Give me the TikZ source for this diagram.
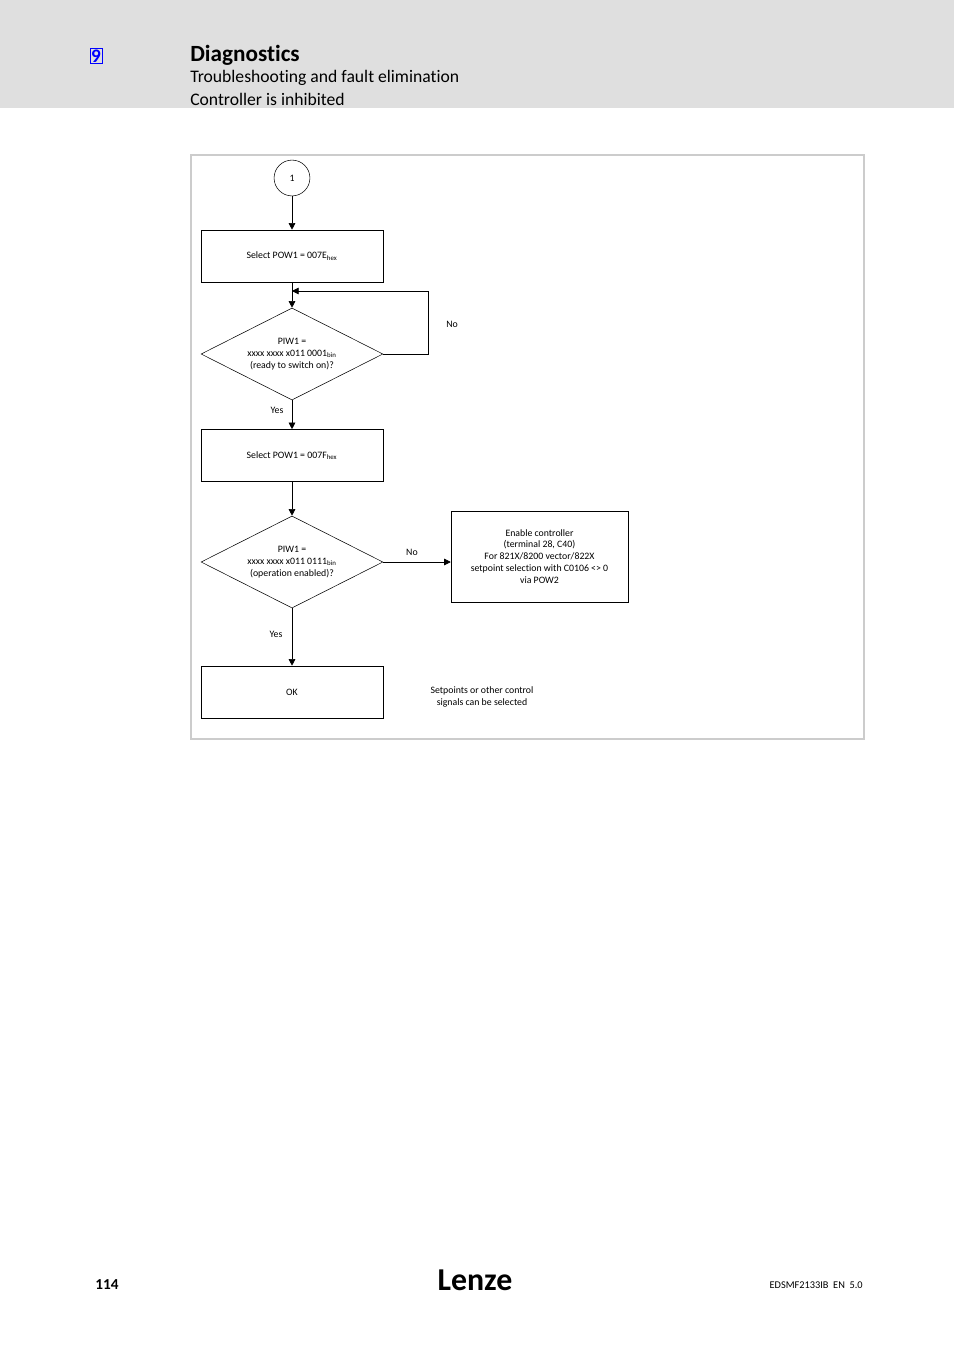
\documentclass[tikz,border=0pt]{standalone}
\usepackage{fontspec}
\setmainfont{Carlito}[Ligatures={NoCommon}]
\usetikzlibrary{shapes.geometric,positioning,arrows.meta}
\tikzset{
  txt/.style={font=\fontsize{7.4}{9}\selectfont, align=center, inner sep=0pt},
  stepbox/.style={draw, txt, minimum width=4.82cm, minimum height=1.38cm},
  decide/.style={draw, diamond, txt, aspect=1.98, minimum width=4.82cm, minimum height=2.44cm},
  flow/.style={-{Triangle[length=5pt,width=5pt]}, line width=0.5pt}
}
\begin{document}
\begin{tikzpicture}[x=0.0265cm, y=-0.0265cm]
  \useasboundingbox (0,0) rectangle (954,1350);
  % header
  \fill[gray!25] (0,0) rectangle (954,108);
  \node[draw=blue, text=blue, inner sep=1pt, font=\bfseries\Large] (chap) at (96,56) {9};
  \node[anchor=west, inner sep=0pt, font=\bfseries\fontsize{17.5}{19}\selectfont] (title) at (190,55) {Diagnostics};
  \node[anchor=west, inner sep=0pt, font=\fontsize{13.3}{15}\selectfont] (sub1) at (190,78) {Troubleshooting and fault elimination};
  \node[anchor=west, inner sep=0pt, font=\fontsize{13.3}{15}\selectfont] (sub2) at (190,99) {Controller is inhibited};
  % frame
  \draw[gray!40, line width=1pt] (191,155) rectangle (864,739);

  \node[draw, circle, txt, minimum size=0.95cm] (start) at (292,178) {1};
  \node[stepbox] (sel1) at (292,256) {Select POW1 = 007E\textsubscript{hex}};
  \node[decide] (ready) at (292,354) {PIW1 =\\xxxx xxxx x011 0001\textsubscript{bin}\\(ready to switch on)?};
  \node[stepbox] (sel2) at (292,455.5) {Select POW1 = 007F\textsubscript{hex}};
  \node[decide] (oper) at (292,562) {PIW1 =\\xxxx xxxx x011 0111\textsubscript{bin}\\(operation enabled)?};
  \node[draw, txt, minimum width=4.69cm, minimum height=2.41cm] (enable) at (539.5,556.5)
    {Enable controller\\(terminal 28, C40)\\For 821X/8200 vector/822X\\setpoint selection with C0106 <> 0\\via POW2};
  \node[stepbox] (ok) at (292,692) {OK};
  \node[txt] (note) at (482,697) {Setpoints or other control\\signals can be selected};

  \coordinate (merge) at (292,291);
  \draw[flow] (start) -- (sel1);
  \draw[flow] (sel1) -- (ready);
  \draw[flow] (ready.east) -- (428,354) -- (428,291) -- (merge);
  \draw[flow] (ready) -- (sel2);
  \draw[flow] (sel2) -- (oper);
  \draw[flow] (oper.east) -- (oper.east -| enable.west);
  \draw[flow] (oper) -- (ok);

  \node[txt] (no1) at (452,324) {No};
  \node[txt] (yes1) at (277,410) {Yes};
  \node[txt] (no2) at (412,552) {No};
  \node[txt] (yes2) at (276,634) {Yes};

  % footer
  \node[font=\bfseries\fontsize{11.5}{13}\selectfont, inner sep=0pt] (page) at (107,1285) {114};
  \node[font=\bfseries\fontsize{24}{26}\selectfont, inner sep=0pt] (logo) at (475,1280) {Lenze};
  \node[anchor=east, font=\fontsize{7.8}{9}\selectfont, inner sep=0pt] (doc) at (863,1285) {EDSMF2133IB\ \ EN\ \ 5.0};
\end{tikzpicture}
\end{document}
